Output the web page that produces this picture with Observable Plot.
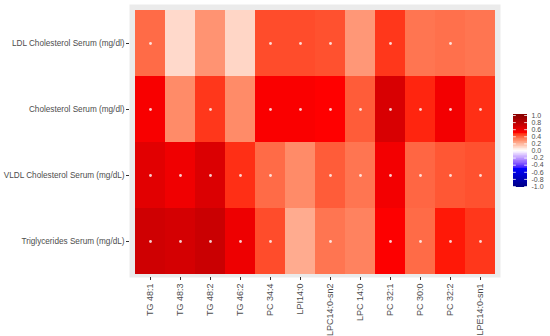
<!DOCTYPE html>
<html>
<head>
<meta charset="utf-8">
<script src="https://cdn.jsdelivr.net/npm/d3@7"></script>
<script src="https://cdn.jsdelivr.net/npm/@observablehq/plot@0.6"></script>
<style>
  body { margin: 0; background: #fff; font-family: "Liberation Sans", Arial, sans-serif; }
  #wrap { position: relative; width: 550px; height: 336px; }
  #legend { position: absolute; left: 505px; top: 100px; }
</style>
</head>
<body>
<div id="wrap"><div id="chart"></div><div id="legend"></div></div>
<script>
const lipids = ["TG 48:1", "TG 48:3", "TG 48:2", "TG 46:2", "PC 34:4", "LPI14:0", "LPC14:0-sn2", "LPC 14:0", "PC 32:1", "PC 30:0", "PC 32:2", "LPE14:0-sn1"];
const traits = ["LDL Cholesterol Serum (mg/dl)", "Cholesterol Serum (mg/dl)", "VLDL Cholesterol Serum (mg/dL)", "Triglycerides Serum (mg/dL)"];

const ldl   = [0.37, 0.10, 0.28, 0.11, 0.43, 0.43, 0.42, 0.27, 0.46, 0.35, 0.36, 0.35];
const chol  = [0.53, 0.30, 0.46, 0.30, 0.52, 0.52, 0.50, 0.40, 0.66, 0.48, 0.55, 0.47];
const vldl  = [0.62, 0.56, 0.65, 0.47, 0.37, 0.30, 0.40, 0.35, 0.55, 0.38, 0.41, 0.42];
const trig  = [0.70, 0.68, 0.72, 0.57, 0.43, 0.22, 0.35, 0.32, 0.51, 0.37, 0.49, 0.46];

// significance marks (1 = dot shown)
const sigLdl  = [1,0,0,0,1,1,1,0,1,0,1,0];
const sigChol = [1,0,1,0,1,1,1,1,1,1,1,1];
const sigVldl = [1,1,1,1,1,0,1,1,1,1,1,1];
const sigTrig = [1,1,1,1,1,0,1,0,1,1,1,1];

const legendTicks = [1.0, 0.8, 0.6, 0.4, 0.2, 0.0, -0.2, -0.4, -0.6, -0.8, -1.0];

const rows = [ldl, chol, vldl, trig];
const sigs = [sigLdl, sigChol, sigVldl, sigTrig];
const cells = [];
traits.forEach((t, i) => lipids.forEach((l, j) => cells.push({trait: t, lipid: l, r: rows[i][j], sig: sigs[i][j]})));

const colorOpts = {
  type: "linear",
  domain: [-1, -0.5, 0, 0.5, 1],
  range: ["#00008B", "#0000FF", "#FFFFFF", "#FF0000", "#8B0000"],
  interpolate: "lab"
};

const chart = Plot.plot({
  width: 550,
  height: 336,
  marginLeft: 129,
  marginRight: 50,
  marginTop: 4,
  marginBottom: 59,
  style: { fontFamily: "Liberation Sans, Arial, sans-serif", color: "#4d4d4d", background: "transparent", overflow: "visible" },
  x: { type: "band", domain: lipids, range: [132, 497], padding: 0 },
  y: { type: "band", domain: traits, range: [10, 274], padding: 0 },
  color: colorOpts,
  marks: [
    Plot.frame({ fill: "#EBEBEB", stroke: null }),
    Plot.cell(cells, { x: "lipid", y: "trait", fill: "r", shapeRendering: "crispEdges" }),
    Plot.dot(cells.filter(d => d.sig), { x: "lipid", y: "trait", r: 1.4, fill: "#fff", fillOpacity: 0.8, stroke: null }),
    Plot.axisX({ anchor: "bottom", tickSize: 3, tickPadding: 3, tickRotate: -90, fontSize: 9, stroke: "#333", fill: "#4d4d4d", label: null }),
    Plot.axisY({ anchor: "left", tickSize: 3, tickPadding: 2, fontSize: 8.2, stroke: "#333", fill: "#4d4d4d", label: null })
  ]
});
document.getElementById("chart").appendChild(chart);

// vertical colourbar legend
const steps = d3.range(-1.04, 1.04, 0.02).map(v => ({ v0: v, v1: Math.min(v + 0.04, 1.04), v: v + 0.01 }));
const legend = Plot.plot({
  width: 45,
  height: 100,
  margin: 0,
  style: { fontFamily: "Liberation Sans, Arial, sans-serif", background: "transparent" },
  x: { domain: [0, 1], range: [8, 22], axis: null },
  y: { domain: [-1, 1], range: [86, 15], axis: null },
  color: colorOpts,
  marks: [
    Plot.rect(steps, { x1: 0, x2: 1, y1: "v0", y2: "v1", fill: "v", shapeRendering: "crispEdges" }),
    Plot.ruleY(legendTicks, { x1: 0, x2: 0.2, stroke: "#fff", strokeWidth: 0.8 }),
    Plot.ruleY(legendTicks, { x1: 0.8, x2: 1, stroke: "#fff", strokeWidth: 0.8 }),
    Plot.text(legendTicks, { x: 1, y: d => d, text: d => d.toFixed(1), dx: 4, textAnchor: "start", fontSize: 7, lineHeight: 1, fill: "#4d4d4d" })
  ]
});
document.getElementById("legend").appendChild(legend);
</script>
</body>
</html>
